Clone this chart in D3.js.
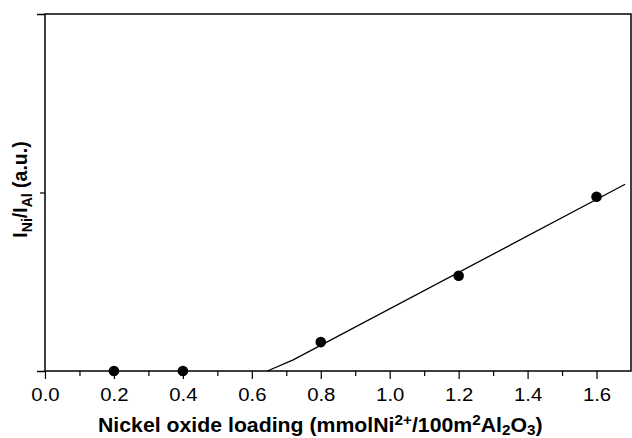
<!DOCTYPE html>
<html lang="en">
<head>
    <meta charset="UTF-8">
    <title>Nickel oxide loading</title>
    <script src="https://d3js.org/d3.v7.min.js"></script>
    <style>
        body { margin: 0; background: #fff; }
        .tick text { font-family: "Liberation Sans", Arial, sans-serif; font-size: 18px; fill: #000; }
        .title { font-family: "Liberation Sans", Arial, sans-serif; font-size: 19.5px; font-weight: bold; fill: #000; }
    </style>
</head>
<body>
    <div id="chart"></div>
    <script>
        // measured points
        const loading = [0.2, 0.4, 0.8, 1.2, 1.6];
        const ratio = [0, 0, 0.162, 0.534, 0.976];

        // fitted line as drawn in the figure
        const fitX = [0.645, 0.72, 1.683];
        const fitY = [0, 0.062, 1.046];

        const xMajor = [0.0, 0.2, 0.4, 0.6, 0.8, 1.0, 1.2, 1.4, 1.6];
        const xMinor = [0.1, 0.3, 0.5, 0.7, 0.9, 1.1, 1.3, 1.5];
        const yMajor = [0, 2];
        const yMinor = [1];

        const margin = {top: 14, right: 1, bottom: 67, left: 45};
        const width = 632 - margin.left - margin.right;
        const height = 438 - margin.top - margin.bottom;

        const svg = d3.select("#chart").append("svg")
            .attr("width", 632)
            .attr("height", 438)
          .append("g")
            .attr("transform", `translate(${margin.left},${margin.top})`);

        const x = d3.scaleLinear().domain([0, 1.7]).range([0, width]);
        const y = d3.scaleLinear().domain([0, 2]).range([height, 0]);

        // x axis: major + minor ticks
        const xAxis = svg.append("g")
            .attr("transform", `translate(0,${height})`)
            .call(d3.axisBottom(x).tickValues(xMajor).tickFormat(d3.format(".1f"))
                .tickSize(8).tickPadding(9).tickSizeOuter(0));
        xAxis.select(".domain").remove();
        xAxis.selectAll(".tick line").attr("stroke", "#000").attr("stroke-width", 1.2);
        // the original figure is a bit stretched sideways
        xAxis.selectAll(".tick text").attr("transform", "scale(1.13,1)");

        const xAxisMinor = svg.append("g")
            .attr("transform", `translate(0,${height})`)
            .call(d3.axisBottom(x).tickValues(xMinor).tickFormat("").tickSize(5).tickSizeOuter(0));
        xAxisMinor.select(".domain").remove();
        xAxisMinor.selectAll(".tick line").attr("stroke", "#000").attr("stroke-width", 1.2);

        // y axis: unlabeled ticks
        const yAxis = svg.append("g")
            .call(d3.axisLeft(y).tickValues(yMajor).tickFormat("").tickSize(8).tickSizeOuter(0));
        yAxis.select(".domain").remove();
        yAxis.selectAll(".tick line").attr("stroke", "#000").attr("stroke-width", 1.5);

        const yAxisMinor = svg.append("g")
            .call(d3.axisLeft(y).tickValues(yMinor).tickFormat("").tickSize(5).tickSizeOuter(0));
        yAxisMinor.select(".domain").remove();
        yAxisMinor.selectAll(".tick line").attr("stroke", "#000").attr("stroke-width", 1.2);

        // frame
        svg.append("rect")
            .attr("x", 0).attr("y", 0)
            .attr("width", width).attr("height", height)
            .attr("fill", "none")
            .attr("stroke", "#000")
            .attr("stroke-width", 1.5);

        // fitted line
        const line = d3.line().x(d => x(d[0])).y(d => y(d[1]));
        svg.append("path")
            .datum(d3.zip(fitX, fitY))
            .attr("d", line)
            .attr("fill", "none")
            .attr("stroke", "#000")
            .attr("stroke-width", 1.3);

        // points
        svg.selectAll(".dot")
            .data(d3.zip(loading, ratio))
            .enter().append("circle")
            .attr("class", "dot")
            .attr("cx", d => x(d[0]))
            .attr("cy", d => y(d[1]))
            .attr("r", 5.3)
            .attr("fill", "#000");

        // x title
        const xtG = svg.append("g")
            .attr("transform", `translate(53,${height + 60.5})`);
        const xt = xtG.append("text")
            .attr("class", "title")
            .attr("text-anchor", "start");
        xt.append("tspan").text("Nickel oxide loading (mmolNi");
        xt.append("tspan").attr("dy", -7).attr("font-size", "14px").text("2+");
        xt.append("tspan").attr("dy", 7).text("/100m");
        xt.append("tspan").attr("dy", -7).attr("font-size", "14px").text("2");
        xt.append("tspan").attr("dy", 7).text("Al");
        xt.append("tspan").attr("dy", 3).attr("font-size", "14px").text("2");
        xt.append("tspan").attr("dy", -3).text("O");
        xt.append("tspan").attr("dy", 3).attr("font-size", "14px").text("3");
        xt.append("tspan").attr("dy", -3).text(")");
        const xtw = xt.node().getBBox().width;
        xt.attr("transform", `scale(${445 / xtw},1)`);

        // y title
        const yt = svg.append("text")
            .attr("class", "title")
            .attr("font-size", "20.5px")
            .attr("transform", "rotate(-90)")
            .attr("x", -(189.5 - margin.top))
            .attr("y", -18)
            .attr("text-anchor", "middle");
        yt.append("tspan").text("I");
        yt.append("tspan").attr("dy", 5).attr("font-size", "14px").text("Ni");
        yt.append("tspan").attr("dy", -5).text("/I");
        yt.append("tspan").attr("dy", 5).attr("font-size", "14px").text("Al");
        yt.append("tspan").attr("dy", -5).text(" (a.u.)");
    </script>
</body>
</html>
